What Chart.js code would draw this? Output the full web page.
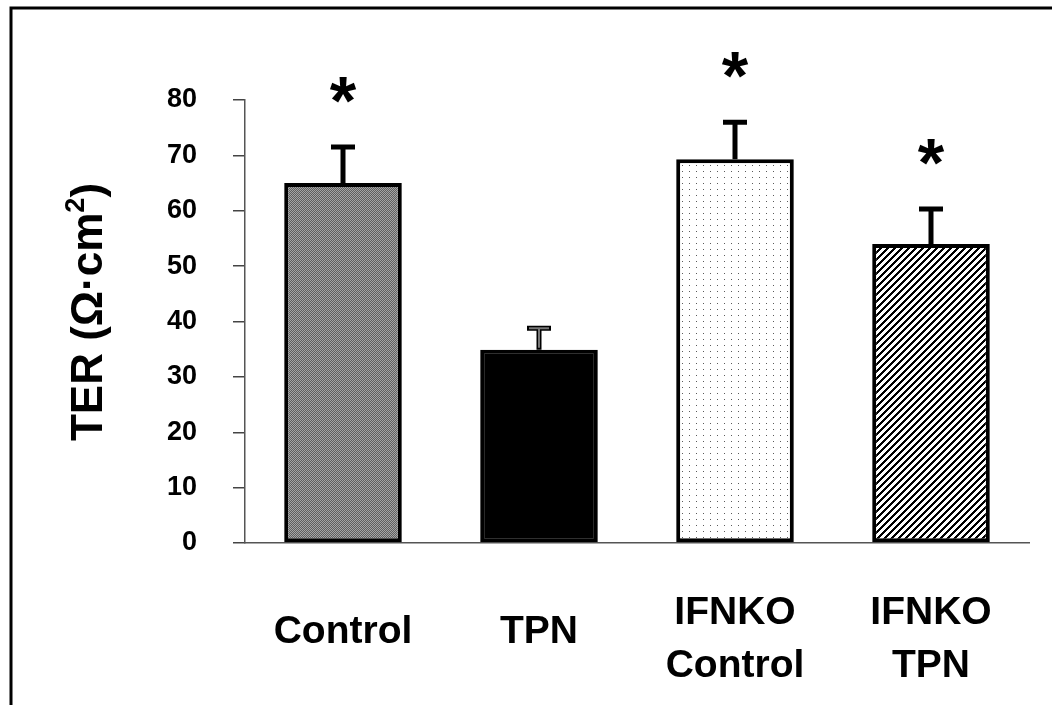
<!DOCTYPE html>
<html>
<head>
<meta charset="utf-8">
<script src="https://cdn.jsdelivr.net/npm/chart.js@4/dist/chart.umd.min.js"></script>
<style>
  body { margin: 0; background: #fff; }
  canvas { display: block; }
</style>
</head>
<body>
<canvas id="terChart" width="1052" height="705"></canvas>
<script>
// data
var groups = ['Control', 'TPN', ['IFNKO', 'Control'], ['IFNKO', 'TPN']];
var terMean = [65.0, 34.9, 69.3, 54.0];
var terErr = [6.5, 3.9, 6.7, 6.3];
var starred = [true, false, true, true];
var yTicks = [0, 10, 20, 30, 40, 50, 60, 70, 80];

var FONT = '"Liberation Sans", Arial, sans-serif';

function makeTile(w, h, paint) {          // small pattern tile
  var c = document.createElement('canvas');
  c.width = w; c.height = h;
  var g = c.getContext('2d');
  var img = g.createImageData(w, h);
  for (var y = 0; y < h; y++) {
    for (var x = 0; x < w; x++) {
      var v = paint(x, y);
      var k = (y * w + x) * 4;
      img.data[k] = v; img.data[k + 1] = v; img.data[k + 2] = v; img.data[k + 3] = 255;
    }
  }
  g.putImageData(img, 0, 0);
  return g.createPattern(c, 'repeat');
}

var grayFill = makeTile(2, 2, function (x, y) { return (x + y) % 2 ? 95 : 165; });
var dotFill = makeTile(7, 6, function (x, y) { return (x == 3 && y == 3) ? 90 : 255; });
var stripeFill = makeTile(7, 7, function (x, y) { return (x + y) % 7 < 3 ? 0 : 255; });

var extras = {
  id: 'extras',
  beforeDraw: function (chart) {
    var ctx = chart.ctx;
    ctx.save();
    ctx.fillStyle = '#fff';
    ctx.fillRect(0, 0, chart.width, chart.height);
    ctx.strokeStyle = '#000';
    ctx.lineWidth = 3;
    ctx.beginPath();                        // cropped frame: top + left
    ctx.moveTo(11, chart.height);
    ctx.lineTo(11, 8);
    ctx.lineTo(chart.width, 8);
    ctx.stroke();
    ctx.restore();
  },
  afterDatasetsDraw: function (chart) {
    var ctx = chart.ctx;
    var ys = chart.scales.y, xs = chart.scales.x;
    var bars = chart.getDatasetMeta(0).data;
    ctx.save();
    // error bars
    for (var i = 0; i < bars.length; i++) {
      var bx = bars[i].x;
      var top = ys.getPixelForValue(terMean[i] + terErr[i]);
      var base = bars[i].y;
      ctx.strokeStyle = '#000';
      ctx.lineCap = 'butt';
      ctx.lineWidth = 5;
      ctx.beginPath();
      ctx.moveTo(bx, base);
      ctx.lineTo(bx, top);
      ctx.moveTo(bx - 12, top);
      ctx.lineTo(bx + 12, top);
      ctx.stroke();
      if (i == 1) {                          // TPN bar: grey core
        ctx.strokeStyle = '#777';
        ctx.lineWidth = 2;
        ctx.beginPath();
        ctx.moveTo(bx, base - 2);
        ctx.lineTo(bx, top);
        ctx.moveTo(bx - 10, top);
        ctx.lineTo(bx + 10, top);
        ctx.stroke();
      }
      if (starred[i]) {
        ctx.fillStyle = '#000';
        ctx.font = 'bold 68px ' + FONT;
        ctx.textAlign = 'center';
        ctx.textBaseline = 'middle';
        ctx.fillText('*', bx, top - 42);
      }
    }
    // category labels
    ctx.fillStyle = '#000';
    ctx.font = 'bold 39px ' + FONT;
    ctx.textAlign = 'center';
    ctx.textBaseline = 'middle';
    for (var j = 0; j < groups.length; j++) {
      var lines = [].concat(groups[j]);
      var lx = xs.getPixelForValue(j);
      var y0 = lines.length == 1 ? chart.chartArea.bottom + 89 : chart.chartArea.bottom + 70;
      for (var k = 0; k < lines.length; k++) {
        ctx.fillText(lines[k], lx, y0 + k * 53);
      }
    }
    // y axis title with superscript
    ctx.translate(90, 312);
    ctx.rotate(-Math.PI / 2);
    ctx.textBaseline = 'middle';
    ctx.textAlign = 'left';
    var big = 'bold 44px ' + FONT, small = 'bold 27px ' + FONT;
    var p1 = 'TER (\u03A9\u00B7cm', p2 = '2', p3 = ')';
    ctx.font = big; var w1 = ctx.measureText(p1).width, w3 = ctx.measureText(p3).width;
    ctx.font = small; var w2 = ctx.measureText(p2).width;
    var sx = -(w1 + w2 + w3) / 2;
    ctx.font = big; ctx.fillText(p1, sx, 0);
    ctx.font = small; ctx.fillText(p2, sx + w1, -13);
    ctx.font = big; ctx.fillText(p3, sx + w1 + w2, 0);
    ctx.restore();
  }
};

var chart = new Chart(document.getElementById('terChart').getContext('2d'), {
  type: 'bar',
  data: {
    labels: groups,
    datasets: [{
      data: terMean,
      backgroundColor: [grayFill, '#000', dotFill, stripeFill],
      borderColor: '#000',
      borderWidth: 4,
      borderSkipped: false,
      barPercentage: 0.6,
      categoryPercentage: 1.0
    }]
  },
  options: {
    responsive: false,
    animation: false,
    layout: { padding: { top: 100, right: 23, bottom: 162, left: 0 } },
    plugins: { legend: { display: false }, tooltip: { enabled: false } },
    scales: {
      x: {
        grid: { display: false, drawTicks: false },
        border: { display: true, color: '#555', width: 1.5 },
        ticks: { display: false },
        afterFit: function (s) { s.height = 0; }
      },
      y: {
        min: 0, max: 80,
        afterBuildTicks: function (s) { s.ticks = yTicks.map(function (v) { return { value: v }; }); },
        grid: { drawOnChartArea: false, tickLength: 12, color: '#444', lineWidth: 1.5 },
        border: { color: '#555', width: 1.5 },
        ticks: { padding: 36, color: '#000', font: { family: FONT, size: 27, weight: 'bold' } },
        afterFit: function (s) { s.width = 245; }
      }
    }
  },
  plugins: [extras]
});
</script>
</body>
</html>
